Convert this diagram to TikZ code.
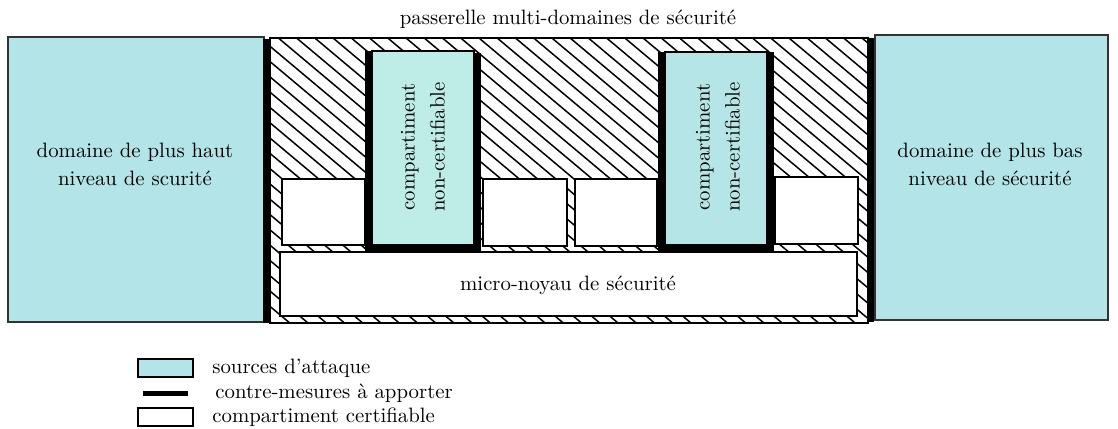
\documentclass[tikz,border=0pt]{standalone}
\definecolor{dom}{HTML}{B3E4E8}
\definecolor{compa}{HTML}{BDEDE6}
\definecolor{compb}{HTML}{B5E5E6}
\begin{document}
\begin{tikzpicture}[x=0.5pt,y=-0.5pt,
  txt/.style={font=\fontsize{10.4}{14}\selectfont, inner sep=0pt},
  thinbox/.style={draw=black,line width=0.6pt},
  thickbar/.style={draw=black,line width=3.5pt},
  hatchline/.style={draw=black,line width=0.75pt}]
\useasboundingbox (0,0) rectangle (1118,428);
% domains
\draw[thinbox,fill=dom,draw=black!80] (8,37) rectangle (264,322);
\draw[thinbox,fill=dom,draw=black!80] (875,35) rectangle (1108,320);
% gateway hatching
\begin{scope}
  \clip (270,38) rectangle (868,323);
  \foreach \k in {-34,...,19} {
    \draw[hatchline] (270,{46.3+15.3*\k}) -- ++(600,503.4);
  }
\end{scope}
\draw[line width=0.8pt] (270,38) rectangle (868,323);
% thick bars at gateway sides
\draw[thickbar] (266,39) -- (266,323);
\draw[thickbar] (870.5,38) -- (870.5,322);
% micro-noyau
\draw[thinbox,fill=white] (280,252) rectangle (857,316);
% certifiable compartments
\draw[thinbox,fill=white] (282,179) rectangle (365,245);
\draw[thinbox,fill=white] (483,179) rectangle (567,246);
\draw[thinbox,fill=white] (575,179) rectangle (657,246);
\draw[thinbox,fill=white] (775,177) rectangle (858,244);
% non-certifiable compartments
\draw[thinbox,fill=compa] (372,51) rectangle (474,245);
\draw[thickbar] (368.5,51) -- (368.5,248.5) -- (477.5,248.5) -- (477.5,53);
\draw[thinbox,fill=compb] (665,52) rectangle (767,245);
\draw[thickbar] (661,52) -- (661,248.5) -- (770,248.5) -- (770,52);
% texts
\node[txt] (title) at (568,19) {passerelle multi-domaines de sécurité};
\node[txt,align=center,font=\fontsize{10.4}{14}\selectfont] (dh) at (135,164) {domaine de plus haut\\niveau de scurité};
\node[txt,align=center,font=\fontsize{10.4}{14}\selectfont] (db) at (990,164) {domaine de plus bas\\niveau de sécurité};
\node[txt] (mn) at (568,285) {micro-noyau de sécurité};
\node[txt,align=center,rotate=90,font=\fontsize{10.4}{15}\selectfont] (c1) at (423,147) {compartiment\\non-certifiable};
\node[txt,align=center,rotate=90,font=\fontsize{10.4}{15}\selectfont] (c2) at (718,147) {compartiment\\non-certifiable};
% legend
\draw[line width=0.65pt,fill=dom] (138,359) rectangle (193,377);
\fill[black] (143,391) rectangle (188,396);
\draw[line width=0.65pt,fill=white] (138,408) rectangle (193,426);
\node[txt,anchor=west] (l1) at (212,368) {sources d'attaque};
\node[txt,anchor=west] (l2) at (215,393) {contre-mesures à apporter};
\node[txt,anchor=west] (l3) at (212,417) {compartiment certifiable};
\end{tikzpicture}
\end{document}
